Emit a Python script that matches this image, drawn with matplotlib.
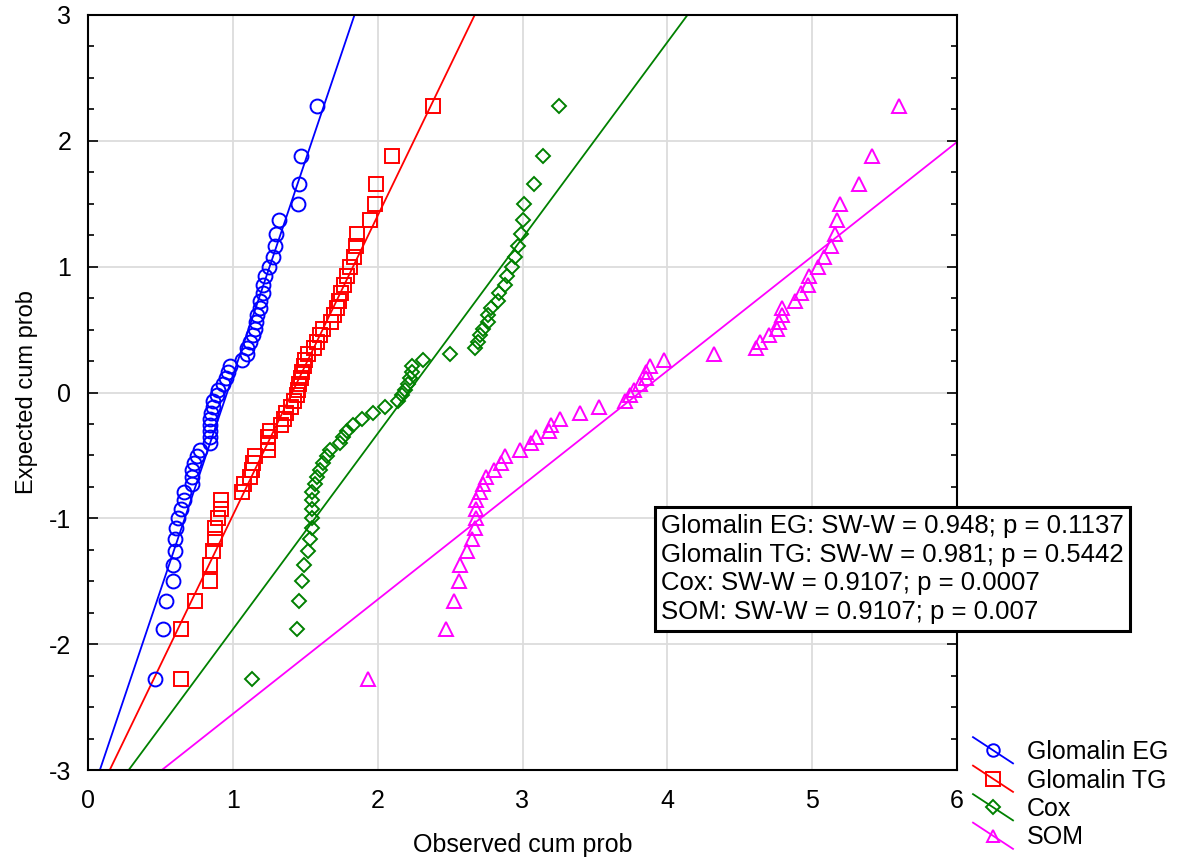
import numpy as np
import matplotlib
matplotlib.use("Agg")
import matplotlib.pyplot as plt
from matplotlib.ticker import MultipleLocator
from matplotlib.legend_handler import HandlerBase
from matplotlib.lines import Line2D

plt.rcParams['font.family'] = ['Liberation Sans', 'DejaVu Sans']
plt.rcParams['axes.unicode_minus'] = False

# expected normal scores (shared by all four variables, n = 54)
expected = [-2.273, -1.882, -1.660, -1.499, -1.370, -1.260, -1.164, -1.077, -0.999,
            -0.925, -0.857, -0.792, -0.730, -0.671, -0.614, -0.559, -0.506, -0.454,
            -0.404, -0.354, -0.305, -0.257, -0.210, -0.163, -0.116, -0.069, -0.023,
            0.023, 0.069, 0.116, 0.163, 0.210, 0.257, 0.305, 0.354, 0.404,
            0.454, 0.506, 0.559, 0.614, 0.671, 0.730, 0.792, 0.857, 0.925,
            0.999, 1.077, 1.164, 1.260, 1.370, 1.499, 1.660, 1.882, 2.273]

glomalin_eg = [0.46, 0.52, 0.54, 0.59, 0.59, 0.60, 0.60, 0.61, 0.62,
               0.64, 0.66, 0.66, 0.72, 0.72, 0.72, 0.73, 0.75, 0.77,
               0.84, 0.84, 0.84, 0.84, 0.84, 0.85, 0.86, 0.86, 0.89,
               0.90, 0.93, 0.95, 0.97, 0.98, 1.06, 1.10, 1.10, 1.12,
               1.14, 1.15, 1.16, 1.17, 1.19, 1.19, 1.21, 1.21, 1.22,
               1.25, 1.28, 1.29, 1.30, 1.32, 1.45, 1.46, 1.47, 1.58]

glomalin_tg = [0.64, 0.64, 0.74, 0.84, 0.84, 0.86, 0.88, 0.88, 0.90,
               0.92, 0.92, 1.06, 1.08, 1.12, 1.13, 1.14, 1.15, 1.24,
               1.24, 1.24, 1.26, 1.33, 1.35, 1.37, 1.40, 1.42, 1.44,
               1.45, 1.46, 1.47, 1.48, 1.49, 1.50, 1.52, 1.56, 1.58,
               1.60, 1.62, 1.68, 1.70, 1.72, 1.73, 1.75, 1.77, 1.79,
               1.81, 1.84, 1.85, 1.86, 1.95, 1.98, 1.99, 2.10, 2.38]

cox = [1.13, 1.44, 1.46, 1.48, 1.49, 1.52, 1.53, 1.55, 1.55,
       1.55, 1.55, 1.55, 1.57, 1.58, 1.60, 1.62, 1.65, 1.67,
       1.74, 1.76, 1.79, 1.83, 1.89, 1.97, 2.05, 2.14, 2.17,
       2.19, 2.21, 2.22, 2.24, 2.24, 2.31, 2.50, 2.67, 2.69,
       2.71, 2.73, 2.76, 2.76, 2.78, 2.83, 2.84, 2.88, 2.89,
       2.93, 2.95, 2.97, 2.99, 3.00, 3.01, 3.08, 3.14, 3.25]

som = [1.93, 2.47, 2.53, 2.56, 2.57, 2.62, 2.65, 2.67, 2.68,
       2.68, 2.68, 2.71, 2.73, 2.75, 2.80, 2.85, 2.88, 2.98,
       3.06, 3.09, 3.18, 3.20, 3.26, 3.40, 3.53, 3.71, 3.74,
       3.77, 3.81, 3.85, 3.85, 3.88, 3.98, 4.32, 4.61, 4.64,
       4.70, 4.76, 4.77, 4.79, 4.79, 4.88, 4.92, 4.97, 4.98,
       5.04, 5.08, 5.13, 5.16, 5.17, 5.19, 5.32, 5.41, 5.60]

names = ['Glomalin EG', 'Glomalin TG', 'Cox', 'SOM']
series = [glomalin_eg, glomalin_tg, cox, som]
# reference lines: expected = (x - mean) / sd
line_mean = [0.961, 1.41, 2.21, 3.81]
line_sd = [0.293, 0.42, 0.643, 1.10]

colors = ['#0000ff', '#ff0000', '#008000', '#ff00ff']
markers = ['o', 's', 'D', '^']
msizes = [10, 10.5, 7.5, 10]

stats_text = ["Glomalin EG: SW-W = 0.948; p = 0.1137",
              "Glomalin TG: SW-W = 0.981; p = 0.5442",
              "Cox: SW-W = 0.9107; p = 0.0007",
              "SOM: SW-W = 0.9107; p = 0.007"]


class DiagHandler(HandlerBase):
    # legend key drawn as a slanted line with the marker in the middle
    def create_artists(self, legend, orig, xdescent, ydescent, width, height, fontsize, trans):
        x0, x1 = -xdescent, -xdescent + width
        y0, y1 = -ydescent - 0.25 * height, -ydescent + 1.25 * height
        ln = Line2D([x0, x1], [y1, y0], color=orig.get_color(), lw=orig.get_linewidth(),
                    transform=trans)
        mk = Line2D([(x0 + x1) / 2], [(y0 + y1) / 2], linestyle='none',
                    marker=orig.get_marker(), ms=orig.get_markersize(),
                    mfc='none', mec=orig.get_markeredgecolor(),
                    mew=orig.get_markeredgewidth(), transform=trans)
        return [ln, mk]


fig = plt.figure(figsize=(11.79, 8.6), dpi=100)
ax = fig.add_axes([88/1179, 90/860, (957-88)/1179, (770-15)/860])

xx = np.linspace(-1, 7, 50)
handles = []
for i in range(4):
    ax.plot(xx, (xx - line_mean[i]) / line_sd[i], color=colors[i], lw=1.3, zorder=2)
    ax.plot(series[i], expected, linestyle='none', marker=markers[i], ms=msizes[i],
            mfc='none', mec=colors[i], mew=1.4, zorder=3)
    h, = ax.plot([], [], color=colors[i], lw=1.3, marker=markers[i], ms=msizes[i] * 0.9,
                 mfc='none', mec=colors[i], mew=1.4)
    handles.append(h)

ax.set_xlim(0, 6)
ax.set_ylim(-3, 3)
ax.xaxis.set_major_locator(MultipleLocator(1))
ax.yaxis.set_major_locator(MultipleLocator(1))
ax.yaxis.set_minor_locator(MultipleLocator(0.25))
ax.grid(True, which='major', color='#dcdcdc', lw=1.3, zorder=0)
ax.set_axisbelow(True)
ax.tick_params(axis='both', which='both', direction='in', right=True, top=False,
               labelsize=18, width=1.2, colors='black')
ax.tick_params(axis='y', which='major', length=7, pad=12)
ax.tick_params(axis='y', which='minor', length=4)
ax.tick_params(axis='x', which='major', length=0, pad=14)
for s in ax.spines.values():
    s.set_linewidth(1.5)

ax.set_xlabel('Observed cum prob', fontsize=18, labelpad=14)
ax.set_ylabel('Expected cum prob', fontsize=17, labelpad=8)

fig.text(661/1179, 1 - 569/860, "\n".join(stats_text), fontsize=18.5,
         va='center', ha='left', linespacing=1.25,
         bbox=dict(boxstyle='square,pad=0.25', fc='white', ec='black', lw=2.2))

fig.legend(handles, names, loc='upper left', bbox_to_anchor=(968/1179, 1 - 735/860),
           frameon=False, fontsize=18, handlelength=1.6, handletextpad=0.55,
           labelspacing=0.18, borderpad=0.2, borderaxespad=0,
           handler_map={Line2D: DiagHandler()})

fig.savefig('out.png', dpi=100)
